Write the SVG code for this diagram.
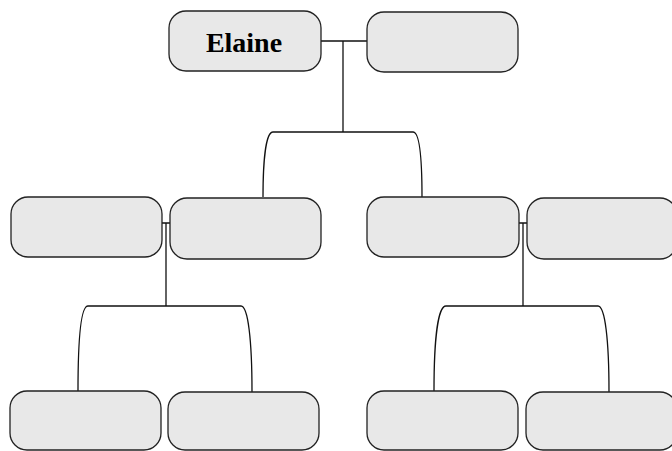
<svg xmlns="http://www.w3.org/2000/svg" width="672" height="451" viewBox="0 0 672 451">
<style>
.box{fill:#e8e8e8;stroke:#222;stroke-width:1.3}
.c{fill:none;stroke:#111;stroke-width:1.3}
.t{font-family:"Liberation Serif",serif;font-weight:bold;font-size:28px;fill:#000}
</style>
<rect width="672" height="451" fill="#fff"/>
<g id="connectors">
<path class="c" d="M321,41 H367 M343,41 V132"/>
<path class="c" d="M263,197 C263,160 266,132 273,132 H413 C420,132 422,160 422,197"/>
<path class="c" d="M162,223 H170 M166,223 V306"/>
<path class="c" d="M78,391 C78,340 81,306 88,306 H241 C248,306 252,340 252,392"/>
<path class="c" d="M519,223 H527 M523,223 V306"/>
<path class="c" d="M434,391 C434,340 438,306 446,306 H598 C605,306 609,340 609,392"/>
</g>
<g id="n-elaine"><rect class="box" x="169" y="11" width="152" height="60" rx="17"/><text class="t" x="244" y="52" text-anchor="middle">Elaine</text></g>
<g id="n-spouse"><rect class="box" x="367" y="12" width="151" height="60" rx="17"/></g>
<g id="n-l1a"><rect class="box" x="11" y="197" width="151" height="60" rx="17"/></g>
<g id="n-l1b"><rect class="box" x="170" y="198" width="151" height="61" rx="17"/></g>
<g id="n-r1a"><rect class="box" x="367" y="197" width="152" height="60" rx="17"/></g>
<g id="n-r1b"><rect class="box" x="527" y="198" width="150" height="61" rx="17"/></g>
<g id="n-l2a"><rect class="box" x="10" y="391" width="151" height="59" rx="17"/></g>
<g id="n-l2b"><rect class="box" x="168" y="392" width="151" height="58" rx="17"/></g>
<g id="n-r2a"><rect class="box" x="367" y="391" width="151" height="59" rx="17"/></g>
<g id="n-r2b"><rect class="box" x="526" y="392" width="151" height="58" rx="17"/></g>
</svg>
